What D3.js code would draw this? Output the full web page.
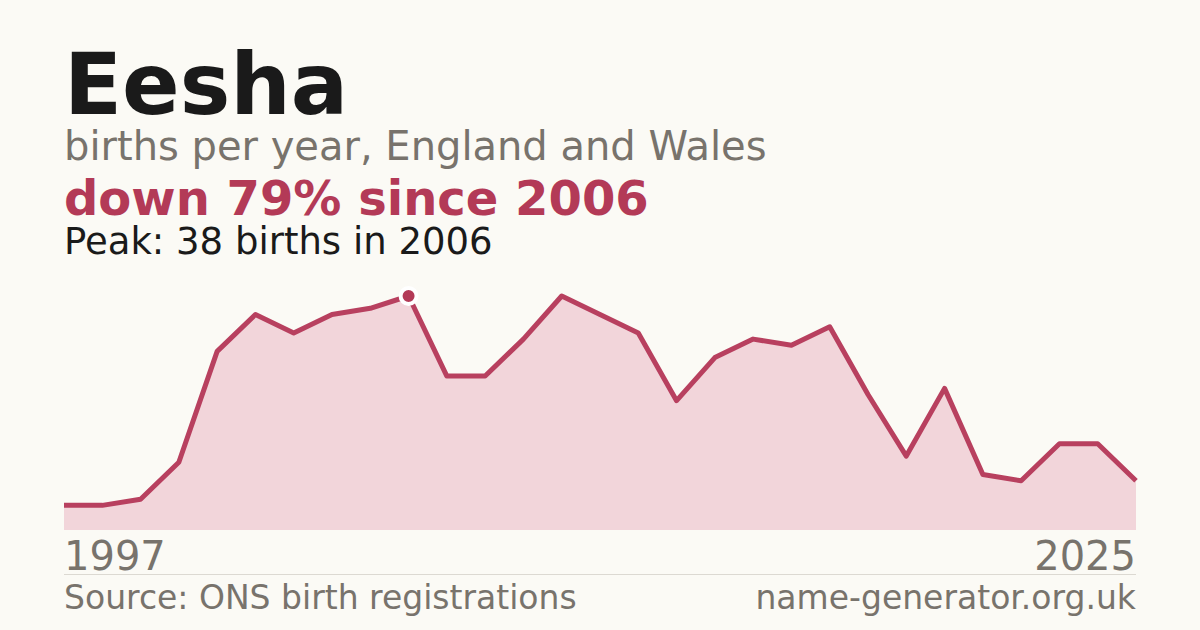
<!DOCTYPE html>
<html>
<head>
<meta charset="utf-8">
<script src="https://cdn.jsdelivr.net/npm/d3@7"></script>
<style>
	html, body { margin: 0; padding: 0; background: #fbfaf5; }
	svg { display: block; font-family: "DejaVu Sans", sans-serif; }
</style>
</head>
<body>
<div id="chart"></div>
<script>
const years = d3.range(1997, 2026);
const births = [4, 4, 5, 11, 29, 35, 32, 35, 36, 38, 25, 25, 31, 38, 35, 32, 21, 28, 31, 30, 33, 22, 12, 23, 9, 8, 14, 14, 8];
const nombre = "Eesha";
const subtitulo = "births per year, England and Wales";
const cambio = "down 79% since 2006";
const pico = "Peak: 38 births in 2006";
const fuente = "Source: ONS birth registrations";
const sitio = "name-generator.org.uk";

var svgWidth = 1200;
var svgHeight = 630;
var margin = {left: 64, right: 64};
var chartTop = 296, chartBottom = 530;

var data = years.map(function(y, i) { return {year: y, value: births[i]}; });

var svg = d3.select("#chart")
	.append("svg")
	.attr("width", svgWidth)
	.attr("height", svgHeight);

svg.append("rect")
	.attr("width", svgWidth)
	.attr("height", svgHeight)
	.attr("fill", "#fbfaf5");

var x = d3.scaleLinear()
	.domain(d3.extent(years))
	.range([margin.left, svgWidth - margin.right]);

var y = d3.scaleLinear()
	.domain([0, d3.max(births)])
	.range([chartBottom, chartTop]);

// titulos
svg.append("text")
	.attr("x", 64).attr("y", 114)
	.attr("font-size", 85).attr("font-weight", "bold")
	.attr("fill", "#1a1a1a")
	.text(nombre);

svg.append("text")
	.attr("x", 64).attr("y", 160)
	.attr("font-size", 40)
	.attr("fill", "#78736c")
	.text(subtitulo);

svg.append("text")
	.attr("x", 64).attr("y", 215)
	.attr("font-size", 48).attr("font-weight", "bold")
	.attr("fill", "#b33a57")
	.text(cambio);

svg.append("text")
	.attr("x", 64).attr("y", 254)
	.attr("font-size", 37)
	.attr("fill", "#1a1a1a")
	.text(pico);

var area = d3.area()
	.x(function(d) { return x(d.year); })
	.y0(y(0))
	.y1(function(d) { return y(d.value); });

var line = d3.line()
	.x(function(d) { return x(d.year); })
	.y(function(d) { return y(d.value); });

svg.append("path")
	.datum(data)
	.attr("fill", "#f2d5da")
	.attr("d", area);

svg.append("path")
	.datum(data)
	.attr("fill", "none")
	.attr("stroke", "#b8405f")
	.attr("stroke-width", 5)
	.attr("stroke-linejoin", "round")
	.attr("d", line);

// punto del pico
var peak = data[d3.maxIndex(births)];
svg.append("circle")
	.attr("cx", x(peak.year))
	.attr("cy", y(peak.value))
	.attr("r", 8)
	.attr("fill", "#b33a57")
	.attr("stroke", "#ffffff")
	.attr("stroke-width", 4);

// eje de años
svg.append("text")
	.attr("x", x(years[0])).attr("y", 570)
	.attr("font-size", 40)
	.attr("fill", "#78736c")
	.text(years[0]);

svg.append("text")
	.attr("x", x(years[years.length - 1])).attr("y", 570)
	.attr("font-size", 40)
	.attr("text-anchor", "end")
	.attr("fill", "#78736c")
	.text(years[years.length - 1]);

svg.append("line")
	.attr("x1", margin.left).attr("x2", svgWidth - margin.right)
	.attr("y1", 574.5).attr("y2", 574.5)
	.attr("stroke", "#dcd9d2")
	.attr("stroke-width", 1);

svg.append("text")
	.attr("x", 64).attr("y", 609)
	.attr("font-size", 33)
	.attr("fill", "#78736c")
	.text(fuente);

svg.append("text")
	.attr("x", svgWidth - margin.right).attr("y", 609)
	.attr("font-size", 33)
	.attr("text-anchor", "end")
	.attr("fill", "#78736c")
	.text(sitio);
</script>
</body>
</html>
